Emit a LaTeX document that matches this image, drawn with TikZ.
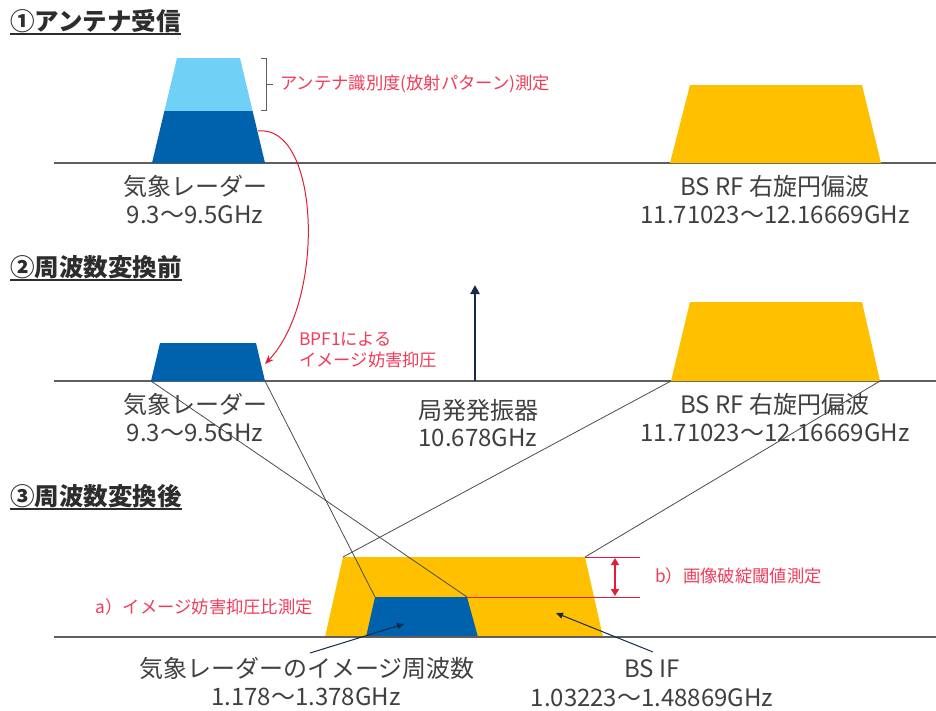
\documentclass[tikz,border=0pt]{standalone}
\usepackage{fontspec}
\setmainfont{Noto Sans CJK JP}
\usetikzlibrary{arrows.meta}
\definecolor{dblue}{RGB}{0,98,172}
\definecolor{lblue}{RGB}{112,208,245}
\definecolor{ygold}{RGB}{255,192,0}
\definecolor{rednote}{RGB}{240,60,90}
\definecolor{redline}{RGB}{225,30,55}
\definecolor{txt}{RGB}{64,64,64}
\definecolor{navy}{RGB}{25,40,75}
\definecolor{axisgray}{RGB}{95,95,95}
\tikzset{
  lbl/.style={font=\fontsize{24}{28}\selectfont, text=txt, inner sep=0pt, anchor=base},
  note/.style={font=\fontsize{17.3}{21}\selectfont, text=rednote, inner sep=0pt},
  ttl/.style={font=\fontsize{24.5}{28}\selectfont\bfseries, text=txt!70!black, inner sep=0pt, anchor=base west},
  axisline/.style={draw=axisgray, line width=1.2pt},
  conn/.style={draw=black!70, line width=0.8pt},
  ptr/.style={draw=navy, line width=1pt, -{Triangle[length=7pt,width=6pt]}},
  ulin/.style={draw=txt!70!black, line width=1.2pt},
}
\begin{document}
\begin{tikzpicture}[x=1pt,y=-1pt]
\useasboundingbox (0,0) rectangle (936,710);
\fill[white] (0,0) rectangle (936,710);

% ---------- titles ----------
\node[ttl] (t1) at (10,30) {①アンテナ受信};
\node[ttl] (t2) at (10,276) {②周波数変換前};
\node[ttl] (t3) at (10,505) {③周波数変換後};
\foreach \t in {t1,t2,t3}
  \draw[ulin] ([yshift=-4pt]\t.base west) -- ([yshift=-4pt]\t.base east);

% ---------- section 1 ----------
\coordinate (a1l) at (54,163);  \coordinate (a1r) at (936,163);
\draw[axisline] (a1l) -- (a1r);
\fill[lblue] (164.4,111) -- (177,58) -- (240,58) -- (252.6,111) -- cycle;
\fill[dblue] (152,163) -- (164.4,111) -- (252.6,111) -- (265,163) -- cycle;
\fill[ygold] (670,163) -- (690,85) -- (862,85) -- (881,163) -- cycle;
\coordinate (r1edge) at (258,131);
% bracket
\coordinate (bt) at (261,58); \coordinate (bb) at (261,110);
\coordinate (bm) at (266,84); \coordinate (bmr) at (273,84);
\draw[axisgray, line width=0.8pt] (bt) -- (266,58) -- (266,110) -- (bb);
\draw[axisgray, line width=0.8pt] (bm) -- (bmr);
\node[note, anchor=west] (n1) at (280,84) {アンテナ識別度(放射パターン)測定};
\node[lbl] (l1a) at (195,195) {気象レーダー};
\node[lbl] (l1b) at (195,223) {9.3〜9.5GHz};
\node[lbl] (l1c) at (775,195) {BS RF 右旋円偏波};
\node[lbl] (l1d) at (775,223) {11.71023〜12.16669GHz};

% ---------- section 2 ----------
\coordinate (a2l) at (54,381);  \coordinate (a2r) at (936,381);
\draw[axisline] (a2l) -- (a2r);
\coordinate (r2bl) at (151,381); \coordinate (r2br) at (265,381);
\fill[dblue] (r2bl) -- (160,343) -- (256,343) -- (r2br) -- cycle;
\coordinate (y2bl) at (671,381); \coordinate (y2br) at (880,381);
\fill[ygold] (y2bl) -- (690,302) -- (862,302) -- (y2br) -- cycle;
\coordinate (r2tip) at (265,364);
\draw[redline, line width=1pt, -{Stealth[length=9pt,width=7pt]}]
  (r1edge) .. controls (320,124) and (326,300) .. (r2tip);
\node[note, anchor=west, align=left] (n2) at (299,350) {BPF1による\\イメージ妨害抑圧};
\coordinate (lob) at (475,381); \coordinate (lot) at (475,285);
\draw[navy, line width=2.6pt, -{Triangle[length=9pt,width=9pt]}] (lob) -- (lot);
\node[lbl] (l2a) at (195,413) {気象レーダー};
\node[lbl] (l2b) at (195,441) {9.3〜9.5GHz};
\node[lbl] (l2c) at (478,419) {局発発振器};
\node[lbl] (l2d) at (478,446) {10.678GHz};
\node[lbl] (l2e) at (775,413) {BS RF 右旋円偏波};
\node[lbl] (l2f) at (775,441) {11.71023〜12.16669GHz};

% ---------- section 3 ----------
\coordinate (a3l) at (54,637);  \coordinate (a3r) at (936,637);
\coordinate (y3tl) at (343,557); \coordinate (y3tr) at (585,557);
\fill[ygold] (325,637) -- (y3tl) -- (y3tr) -- (603,637) -- cycle;
\coordinate (b3tl) at (375,597); \coordinate (b3tr) at (467,597);
\fill[dblue] (366,637) -- (b3tl) -- (b3tr) -- (478,637) -- cycle;
\draw[axisline] (a3l) -- (a3r);
% mapping lines
\draw[conn] (r2bl) -- (b3tr);
\draw[conn] (r2br) -- (b3tl);
\draw[conn] (y2bl) -- (y3tl);
\draw[conn] (y2br) -- (y3tr);
% threshold marks
\coordinate (m1) at (640,557); \coordinate (m2) at (640,597);
\draw[redline, line width=1pt] (y3tr) -- (m1);
\draw[redline, line width=1pt] (b3tr) -- (m2);
\coordinate (d1) at (615,558); \coordinate (d2) at (615,596);
\draw[redline, line width=1.4pt, {Triangle[length=7pt,width=8pt]}-{Triangle[length=7pt,width=8pt]}] (d1) -- (d2);
\node[note, anchor=west] (nb) at (655,576) {b）画像破綻閾値測定};
\node[note, anchor=east] (na) at (313,607) {a）イメージ妨害抑圧比測定};
% pointers
\coordinate (p1s) at (310,653); \coordinate (p1e) at (404,624);
\coordinate (p2s) at (653,652); \coordinate (p2e) at (556,613);
\draw[ptr] (p1s) -- (p1e);
\draw[ptr] (p2s) -- (p2e);
\node[lbl] (l3a) at (307,677) {気象レーダーのイメージ周波数};
\node[lbl] (l3b) at (306,705) {1.178〜1.378GHz};
\node[lbl] (l3c) at (652,677) {BS IF};
\node[lbl] (l3d) at (652,706) {1.03223〜1.48869GHz};
\end{tikzpicture}
\end{document}
